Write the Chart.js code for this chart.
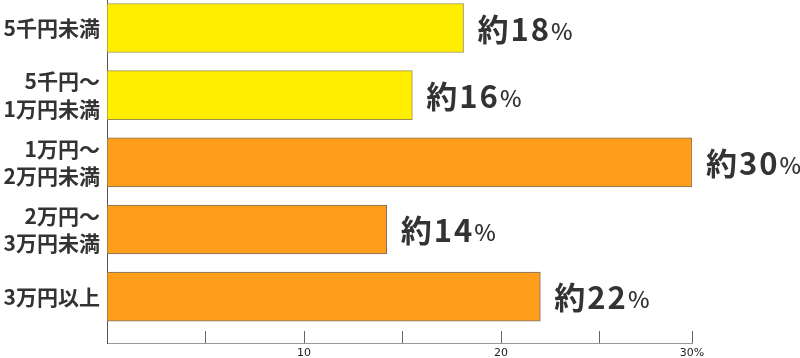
<!DOCTYPE html>
<html lang="ja">
<head>
<meta charset="utf-8">
<script src="https://cdn.jsdelivr.net/npm/chart.js@4"></script>
<style>
  html, body { margin: 0; padding: 0; background: #fff; }
  #wrap { width: 800px; height: 358px; position: relative; }
</style>
</head>
<body>
<div id="wrap"><canvas id="chart"></canvas></div>
<script>
// ─── Data ────────────────────────────────────────────────────────────────────
const CATEGORIES = [
  '5千円未満',
  ['5千円～', '1万円未満'],
  ['1万円～', '2万円未満'],
  ['2万円～', '3万円未満'],
  '3万円以上',
];
const BAR_VALUES = [18.1, 15.5, 29.7, 14.2, 22.0];   // bar lengths as drawn
const LABEL_NUMS = ['18', '16', '30', '14', '22'];    // printed "約xx%"
const X_TICKS = [0, 5, 10, 15, 20, 25, 29.7];
const X_TICK_LABELS = ['', '', '10', '', '20', '', '30%'];

const YELLOW = '#FFEE00';
const ORANGE = '#FF9E1A';
const BAR_COLORS = [YELLOW, YELLOW, ORANGE, ORANGE, ORANGE];
const BAR_BORDERS = ['#9a9148', '#9a9148', '#7a7066', '#7a7066', '#7a7066'];

const JP = "'Noto Sans CJK JP', 'Noto Sans', sans-serif";

// ─── Plugins ─────────────────────────────────────────────────────────────────
// inward tick marks on the x axis
const innerTicks = {
  id: 'innerTicks',
  afterDraw(chart) {
    const { ctx, chartArea, scales } = chart;
    ctx.save();
    ctx.strokeStyle = '#666';
    ctx.lineWidth = 1;
    X_TICKS.forEach(v => {
      if (v === 0) return;
      const x = Math.round(scales.x.getPixelForValue(v)) + 0.5;
      ctx.beginPath();
      ctx.moveTo(x, chartArea.bottom - 12);
      ctx.lineTo(x, chartArea.bottom);
      ctx.stroke();
    });
    ctx.restore();
  },
};

// "約xx%" labels at bar ends
const valueLabels = {
  id: 'valueLabels',
  afterDatasetsDraw(chart) {
    const { ctx } = chart;
    const meta = chart.getDatasetMeta(0);
    ctx.save();
    ctx.fillStyle = '#333';
    ctx.textBaseline = 'middle';
    ctx.textAlign = 'left';
    meta.data.forEach((bar, i) => {
      let x = bar.x + 14;
      const y = bar.y + 1;
      ctx.font = `bold 31px ${JP}`;
      ctx.fillText('約', x, y);
      x += ctx.measureText('約').width + 2;
      ctx.letterSpacing = '2px';
      ctx.fillText(LABEL_NUMS[i], x, y);
      x += ctx.measureText(LABEL_NUMS[i]).width;
      ctx.letterSpacing = '0px';
      ctx.font = `500 23px ${JP}`;
      ctx.fillText('%', x, y + 2);
    });
    ctx.restore();
  },
};

// ─── Chart ───────────────────────────────────────────────────────────────────
new Chart(document.getElementById('chart').getContext('2d'), {
  type: 'bar',
  data: {
    datasets: [{
      data: BAR_VALUES.map((v, i) => ({ x: v, y: i })),
      backgroundColor: BAR_COLORS,
      borderColor: BAR_BORDERS,
      borderWidth: 1,
      borderSkipped: false,
      barThickness: 49,
    }],
  },
  options: {
    indexAxis: 'y',
    responsive: true,
    maintainAspectRatio: false,
    animation: false,
    layout: { padding: { top: 0, right: 108, bottom: 0, left: 0 } },
    plugins: { legend: { display: false }, tooltip: { enabled: false } },
    scales: {
      x: {
        type: 'linear',
        min: 0,
        max: 29.7,
        offset: false,
        afterBuildTicks: s => { s.ticks = X_TICKS.map(v => ({ value: v })); },
        afterFit: s => { s.height = 15; s.paddingLeft = 0; s.paddingRight = 0; },
        grid: { display: false, drawTicks: false },
        border: { display: true, color: '#999', width: 1 },
        ticks: {
          autoSkip: false,
          maxRotation: 0,
          padding: 4,
          color: '#222',
          font: { family: 'DejaVu Sans', size: 11 },
          callback: (v, i) => X_TICK_LABELS[i],
        },
      },
      y: {
        type: 'linear',
        reverse: true,
        offset: false,
        bounds: 'data',
        min: -0.417,
        max: 4.69,
        afterBuildTicks: s => { s.ticks = CATEGORIES.map((c, i) => ({ value: i })); },
        afterFit: s => { s.width = 107; s.paddingTop = 0; s.paddingBottom = 0; },
        grid: { display: false, drawTicks: false, offset: false },
        border: { display: true, color: '#555', width: 1 },
        ticks: {
          autoSkip: false,
          padding: 7,
          color: '#333',
          font: { family: JP, size: 21, weight: 'bold', lineHeight: 1.31 },
          callback: (v, i) => CATEGORIES[i],
        },
      },
    },
  },
  plugins: [innerTicks, valueLabels],
});
</script>
</body>
</html>
